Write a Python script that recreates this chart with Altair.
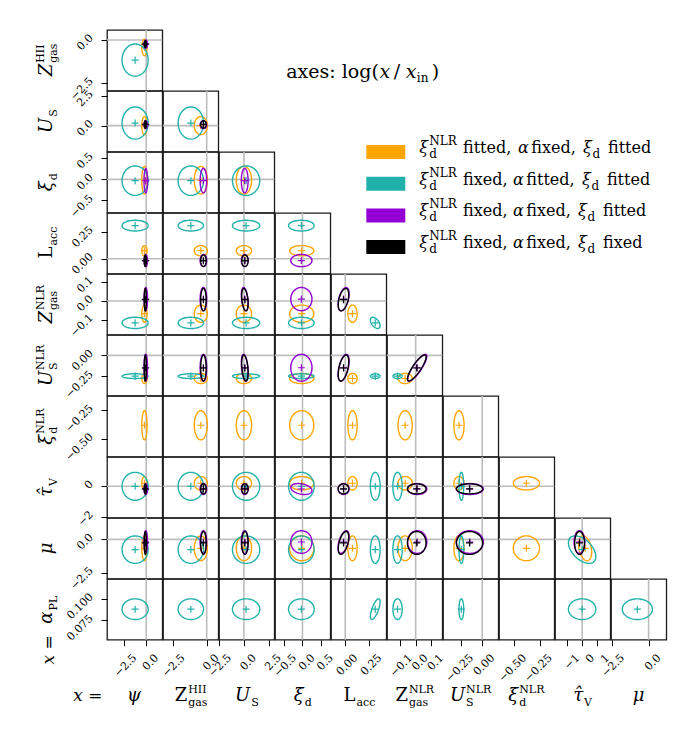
import altair as alt
import numpy as np
import pandas as pd

# ---------------- data ----------------
variables = ["psi", "ZHII", "US", "xid", "Lacc", "ZNLR", "UNLR", "xiNLR", "tauV", "mu", "alpha"]

series_names = ["orange", "teal", "purple", "black"]
series_colors = ["#FFA500", "#20B2AA", "#9400D3", "#000000"]

orange_mean  = [-0.20, -0.43, 0.00, -0.02, 0.075, -0.068, -0.275, -0.38, 0.20, -0.67, None]
orange_sigma = [0.30, 0.48, 0.77, 0.33, 0.048, 0.046, 0.060, 0.127, 0.44, 0.93, None]
teal_mean    = [-1.27, -1.16, 0.22, -0.03, 0.31, -0.117, -0.247, None, 0.00, -0.77, 0.088]
teal_sigma   = [1.50, 0.93, 1.37, 0.35, 0.05, 0.030, 0.028, None, 0.92, 1.03, 0.012]
purple_mean  = [-0.05, -0.24, 0.08, -0.03, -0.017, 0.010, -0.147, None, -0.18, -0.20, None]
purple_sigma = [0.20, 0.24, 0.34, 0.29, 0.057, 0.062, 0.160, None, 0.36, 0.85, None]
black_mean   = [-0.10, -0.24, 0.10, None, -0.018, 0.007, -0.150, None, -0.17, -0.27, None]
black_sigma  = [0.12, 0.20, 0.32, None, 0.054, 0.060, 0.155, None, 0.33, 0.86, None]

means = {"orange": orange_mean, "teal": teal_mean, "purple": purple_mean, "black": black_mean}
sigmas = {"orange": orange_sigma, "teal": teal_sigma, "purple": purple_sigma, "black": black_sigma}

correlations = [
    ("teal", "Lacc", "alpha", 0.7),
    ("teal", "Lacc", "ZNLR", -0.5),
    ("teal", "tauV", "mu", -0.5),
    ("orange", "tauV", "mu", -0.3),
    ("black", "Lacc", "ZNLR", 0.45),
    ("black", "Lacc", "UNLR", 0.5),
    ("black", "ZNLR", "UNLR", 0.85),
    ("black", "US", "ZNLR", -0.35),
    ("black", "US", "UNLR", -0.35),
    ("black", "Lacc", "mu", 0.5),
    ("purple", "Lacc", "ZNLR", 0.45),
    ("purple", "Lacc", "UNLR", 0.5),
    ("purple", "ZNLR", "UNLR", 0.85),
    ("purple", "US", "ZNLR", -0.35),
    ("purple", "US", "UNLR", -0.35),
    ("purple", "Lacc", "mu", 0.5),
    ("purple", "xid", "tauV", -0.3),
]

col_domain = [[-4.5, 1.85], [-3.2, 0.85], [-2.5, 3.05], [-0.75, 0.76], [-0.147, 0.424],
              [-0.185, 0.172], [-0.464, 0.19], [-0.646, -0.109], [-1.82, 1.89], [-2.57, 1.21]]
row_domain = [[-2.93, 0.58], [-2.22, 2.95], [-0.79, 0.65], [-0.14, 0.428], [-0.18, 0.144],
              [-0.48, 0.243], [-0.654, -0.125], [-2.07, 1.93], [-2.95, 1.6], [0.0526, 0.123]]
col_ticks = [[-2.5, 0.0], [-2.5, 0.0], [-2.5, 0.0, 2.5], [-0.5, 0.0, 0.5], [0.0, 0.25],
             [-0.1, 0.0, 0.1], [-0.25, 0.0], [-0.5, -0.25], [-1, 0, 1], [-2.5, 0.0]]
col_fmt = [".1f", ".1f", ".1f", ".1f", ".2f", ".1f", ".2f", ".2f", "d", ".1f"]
row_ticks = [[0.0, -2.5], [2.5, 0.0], [0.5, 0.0, -0.5], [0.25, 0.0], [0.1, 0.0, -0.1],
             [0.0, -0.25], [-0.25, -0.5], [0, -2], [0.0, -2.5], [0.1, 0.075]]
row_fmt = [".1f", ".1f", ".1f", ".2f", ".1f", ".2f", ".2f", "d", ".1f", ".3f"]

# (base, italic base, superscript, subscript)
y_titles = [("Z", True, "HII", "gas"), ("U", True, "", "S"), ("ξ", True, "", "d"),
            ("L", False, "", "acc"), ("Z", True, "NLR", "gas"), ("U", True, "NLR", "S"),
            ("ξ", True, "NLR", "d"), ("τ\u0302", True, "", "V"), ("μ", True, "", ""),
            ("α", True, "", "PL")]
x_titles = [("ψ", True, "", ""), ("Z", False, "HII", "gas"), ("U", True, "", "S"),
            ("ξ", True, "", "d"), ("L", False, "", "acc"), ("Z", False, "NLR", "gas"),
            ("U", True, "NLR", "S"), ("ξ", True, "NLR", "d"), ("τ\u0302", True, "", "V"),
            ("μ", True, "", "")]

legend_nlr = ["fitted,", "fixed,", "fixed,", "fixed,"]
legend_alpha = ["fixed,", "fitted,", "fixed,", "fixed,"]
legend_xid = ["fitted", "fitted", "fitted", "fixed"]

# ---------------- layout ----------------
W, H = 55.3, 60.7
OX, OY = 105.7, 29.0        # absolute position of the top-left plot area
FONT = "DejaVu Serif"
GRID = "#bdbdbd"
PLUS = "M-1,0L1,0M0,-1L0,1"
T_BASE, T_SCRIPT = 18, 11
L_BASE, L_SCRIPT = 16, 12

ONE = pd.DataFrame({"k": [0]})
ZERO = pd.DataFrame({"z": [0.0]})

CW = {' ': 0.318, 'a': 0.596, 'c': 0.560, 'd': 0.640, 'e': 0.592, 'g': 0.640, 'i': 0.320,
      'n': 0.644, 's': 0.513, 'x': 0.564, 'l': 0.320, 'o': 0.602, 'f': 0.370, 't': 0.400,
      ',': 0.318, 'H': 0.872, 'I': 0.419,
      'L': 0.705, 'N': 0.872, 'R': 0.770, 'S': 0.685, 'U': 0.812, 'V': 0.770, 'Z': 0.686,
      'P': 0.733, 'ψ': 0.72, 'ξ': 0.50, 'τ': 0.52, 'μ': 0.64, 'α': 0.64, '\u0302': 0.0}


def text_width(s, size):
    return sum(CW.get(ch, 0.6) for ch in s) * size


def txt(text, x, y, size, italic=False, align="left", angle=0, dy=0, baseline="alphabetic"):
    kw = dict(text=text, font=FONT, fontSize=size, fontStyle="italic" if italic else "normal",
              align=align, baseline=baseline, color="black")
    if angle:
        kw["angle"] = angle
    if dy:
        kw["dy"] = dy
    return alt.Chart(ONE).mark_text(**kw).encode(x=alt.value(x), y=alt.value(y))


def title_layers(spec, cx, cy, rotated):
    base, ital, sup, sub = spec
    wb = text_width(base, T_BASE)
    ws = max(text_width(sup, T_SCRIPT), text_width(sub, T_SCRIPT))
    out = []
    if rotated:
        ya = cy - (wb - ws) / 2
        out.append(txt(base, cx, ya, T_BASE, ital, "right", 270))
        if sup:
            out.append(txt(sup, cx, ya - 1, T_SCRIPT, False, "left", 270, dy=-8))
        if sub:
            out.append(txt(sub, cx, ya - 1, T_SCRIPT, False, "left", 270, dy=5))
    else:
        xa = cx - (ws - wb) / 2
        out.append(txt(base, xa, cy, T_BASE, ital, "right"))
        if sup:
            out.append(txt(sup, xa + 1, cy, T_SCRIPT, False, "left", dy=-8))
        if sub:
            out.append(txt(sub, xa + 1, cy, T_SCRIPT, False, "left", dy=5))
    return out


def corr(s, a, b):
    for cs, v1, v2, rho in correlations:
        if cs == s and {v1, v2} == {a, b}:
            return rho
    return 0.0


def ellipse_df(mx, my, sx, sy, rho, n=72):
    t = np.linspace(0, 2 * np.pi, n + 1)
    x = mx + sx * np.cos(t)
    y = my + sy * (rho * np.cos(t) + np.sqrt(1 - rho ** 2) * np.sin(t))
    return pd.DataFrame({"x": x, "y": y, "i": np.arange(n + 1)})


def x_axis(c):
    return alt.Axis(values=col_ticks[c], format=col_fmt[c], title=None, domain=False, grid=False,
                    tickSize=6, tickWidth=1, tickColor="black", labelAngle=-45, labelAlign="right",
                    labelBaseline="top", labelOffset=6, labelPadding=6, labelFont=FONT,
                    labelFontSize=11, labelColor="black", labelOverlap=False, labelFlush=False)


def y_axis(r):
    return alt.Axis(values=row_ticks[r], format=row_fmt[r], title=None, domain=False, grid=False,
                    tickSize=6, tickWidth=1, tickColor="black", labelAngle=-45, labelAlign="right",
                    labelBaseline="middle", labelOffset=-4, labelPadding=10, labelFont=FONT,
                    labelFontSize=11, labelColor="black", labelOverlap=False, labelFlush=False)


def global_layers():
    out = []
    # anchor fixing the page origin (top-left of the whole figure)
    out.append(alt.Chart(ONE).mark_rule(strokeOpacity=0, strokeWidth=0.1).encode(
        x=alt.value(8 - OX), x2=alt.value(9 - OX), y=alt.value(8 - OY), y2=alt.value(9 - OY)))
    # "axes: log(x / x_in)"
    by = 77 - OY
    out.append(txt("axes: log(", 377.5 - OX, by, 19, align="right"))
    out.append(txt("x", 378.3 - OX, by, 19, True))
    out.append(txt("/", 392.5 - OX, by, 19))
    out.append(txt("x", 404.5 - OX, by, 19, True))
    out.append(txt("in", 415.5 - OX, by, 12, dy=4))
    out.append(txt(")", 430.5 - OX, by, 19))
    # legend
    xpos = [[418, 428, 461.7, 516.7, 530],
            [418, 428, 461.7, 511.7, 525],
            [418, 428, 461.7, 511.7, 525],
            [418, 428, 461.7, 511.7, 525]]
    for i in range(4):
        top = 144 + 31.7 * i
        out.append(alt.Chart(ONE).mark_rect(color=series_colors[i]).encode(
            x=alt.value(365 - OX), x2=alt.value(404 - OX), y=alt.value(top - OY),
            y2=alt.value(top + 14 - OY)))
        b = 152 + 31.7 * i - OY
        p = [v - OX for v in xpos[i]]
        xi2 = p[4] + text_width(legend_alpha[i], L_BASE) * 1.03 + 5.5
        out.append(txt("ξ", p[0], b, L_BASE, True))
        out.append(txt("NLR", p[1], b, L_SCRIPT, dy=-8))
        out.append(txt("d", p[1], b, L_SCRIPT, dy=5))
        out.append(txt(legend_nlr[i], p[2], b, L_BASE))
        out.append(txt("α", p[3], b, L_BASE, True))
        out.append(txt(legend_alpha[i], p[4], b, L_BASE))
        out.append(txt("ξ", xi2, b, L_BASE, True))
        out.append(txt("d", xi2 + 9.5, b, L_SCRIPT, dy=5))
        out.append(txt(legend_xid[i], xi2 + 25, b, L_BASE))
    return out


def panel(r, c):
    xv, yv = variables[c], variables[r + 1]
    xs = alt.Scale(domain=col_domain[c], nice=False, zero=False)
    ys = alt.Scale(domain=row_domain[r], nice=False, zero=False)
    xa = x_axis(c) if r == 9 else None
    ya = y_axis(r) if c == 0 else None

    def X(f):
        return alt.X(f, type="quantitative", scale=xs, axis=xa)

    def Y(f):
        return alt.Y(f, type="quantitative", scale=ys, axis=ya)

    layers = []
    frame_df = pd.DataFrame({"x": col_domain[c], "y": row_domain[r]})
    layers.append(alt.Chart(frame_df).mark_point(opacity=0).encode(x=X("x"), y=Y("y")))
    if col_domain[c][0] < 0 < col_domain[c][1]:
        layers.append(alt.Chart(ZERO).mark_rule(color=GRID, strokeWidth=1.6).encode(x=X("z")))
    if row_domain[r][0] < 0 < row_domain[r][1]:
        layers.append(alt.Chart(ZERO).mark_rule(color=GRID, strokeWidth=1.6).encode(y=Y("z")))
    for s, colr in zip(series_names, series_colors):
        mx, my = means[s][c], means[s][r + 1]
        if mx is None or my is None:
            continue
        sx, sy = sigmas[s][c], sigmas[s][r + 1]
        edf = ellipse_df(mx, my, sx, sy, corr(s, xv, yv))
        layers.append(alt.Chart(edf).mark_line(color=colr, strokeWidth=1.4, clip=True).encode(
            x=X("x"), y=Y("y"), order="i:Q"))
        layers.append(alt.Chart(pd.DataFrame({"x": [mx], "y": [my]})).mark_point(
            shape=PLUS, filled=False, size=50, strokeWidth=1.2, color=colr, opacity=1).encode(
            x=X("x"), y=Y("y")))
    if c == 0:
        layers += title_layers(y_titles[r], -55.5, H / 2, True)
    if r == 9:
        layers += title_layers(x_titles[c], W / 2, 122, False)
    if r == 9 and c == 0:
        layers.append(txt("x =", -33.7, 122, 17, True))
        layers.append(txt("x =", -52.7, 70.8, 17, True, "center", 270))
    if r == 0 and c == 0:
        layers += global_layers()
    return alt.layer(*layers).properties(width=W, height=H)


def empty_cell():
    return alt.Chart(ONE).mark_point(opacity=0).encode(
        x=alt.value(0), y=alt.value(0)).properties(
        width=W, height=H, view=alt.ViewBackground(stroke="transparent"))


cells = []
for r in range(10):
    for c in range(10):
        cells.append(panel(r, c) if c <= r else empty_cell())

chart = alt.concat(*cells, columns=10, spacing=0, bounds="flush", padding=0).configure_view(
    stroke="#1a1a1a", strokeWidth=1.3)

chart.save("out.html", embed_options={"renderer": "svg", "actions": False})
